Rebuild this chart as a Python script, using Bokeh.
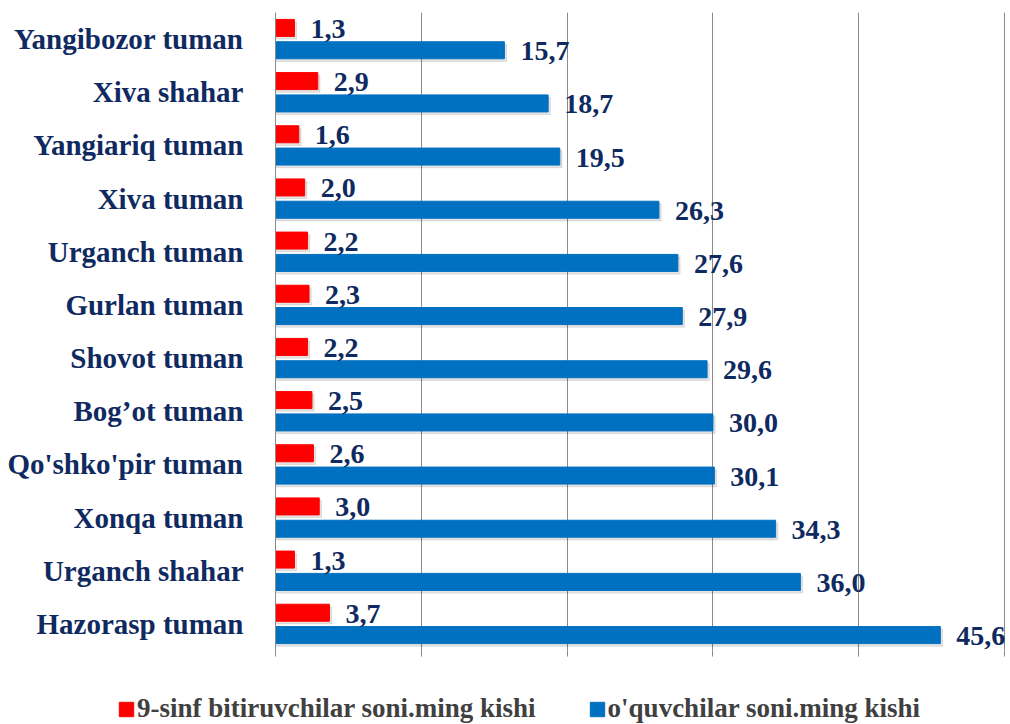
from bokeh.plotting import figure
from bokeh.models import ColumnDataSource, FactorRange, Range1d, Legend, LegendItem, FixedTicker
from bokeh.layouts import column
from bokeh.transform import dodge
from bokeh.core.properties import value
from bokeh.embed import file_html
from bokeh.resources import INLINE

categories = ["Yangibozor tuman", "Xiva shahar", "Yangiariq tuman", "Xiva tuman",
              "Urganch tuman", "Gurlan tuman", "Shovot tuman", "Bog\u2019ot tuman",
              "Qo'shko'pir tuman", "Xonqa tuman", "Urganch shahar", "Hazorasp tuman"]
graduates = [1.3, 2.9, 1.6, 2.0, 2.2, 2.3, 2.2, 2.5, 2.6, 3.0, 1.3, 3.7]
students = [15.7, 18.7, 19.5, 26.3, 27.6, 27.9, 29.6, 30.0, 30.1, 34.3, 36.0, 45.6]
series_names = ["9-sinf bitiruvchilar soni.ming kishi", "o'quvchilar soni.ming kishi"]
x_ticks = [0, 10, 20, 30, 40, 50]

RED = "#ff0000"
BLUE = "#0070c0"
NAVY = "#0f2a60"
GRID = "#8a8a8a"
FONT = value("Liberation Serif")

def fmt(v):
    return f"{v:.1f}".replace(".", ",")

cats_bt = categories[::-1]
src = ColumnDataSource(dict(
    cat=cats_bt,
    grad=graduates[::-1],
    stud=students[::-1],
    grad_lbl=[fmt(v) for v in graduates[::-1]],
    stud_lbl=[fmt(v) for v in students[::-1]],
    grad_sh=[v + 0.15 for v in graduates[::-1]],
    stud_sh=[v + 0.15 for v in students[::-1]],
))

p = figure(width=1010, height=690,
           y_range=FactorRange(*cats_bt, range_padding=0),
           x_range=Range1d(0, 50.41),
           output_backend="svg", toolbar_location=None,
           min_border_left=275, min_border_right=0,
           min_border_top=12, min_border_bottom=40)
p.frame_align = False
p.outline_line_color = None
p.background_fill_color = "white"

# axes
p.xaxis.ticker = FixedTicker(ticks=x_ticks)
p.xgrid.ticker = FixedTicker(ticks=x_ticks)
p.xgrid.grid_line_color = GRID
p.xgrid.grid_line_width = 1
p.ygrid.grid_line_color = None
p.xaxis.axis_line_color = None
p.xaxis.major_tick_line_color = GRID
p.xaxis.major_tick_out = 6
p.xaxis.major_tick_in = 0
p.xaxis.minor_tick_line_color = None
p.xaxis.major_label_text_font_size = "0px"
p.xaxis.major_label_text_color = None

p.yaxis.axis_line_color = GRID
p.yaxis.major_tick_line_color = None
p.yaxis.minor_tick_line_color = None
p.yaxis.major_label_standoff = 26
p.yaxis.major_label_text_font = "Liberation Serif"
p.yaxis.major_label_text_font_style = "bold"
p.yaxis.major_label_text_font_size = "29px"
p.yaxis.major_label_text_color = NAVY

OFF = 0.21
H = 0.32

# soft shadows
p.hbar(y=dodge('cat', OFF - 0.05, range=p.y_range), left=0, right='grad_sh', height=H,
       color="black", alpha=0.1, source=src)
p.hbar(y=dodge('cat', -OFF - 0.05, range=p.y_range), left=0, right='stud_sh', height=H,
       color="black", alpha=0.1, source=src)

p.hbar(y=dodge('cat', OFF, range=p.y_range), left=0, right='grad', height=H,
       color=RED, source=src)
p.hbar(y=dodge('cat', -OFF, range=p.y_range), left=0, right='stud', height=H,
       color=BLUE, source=src)

p.text(x='grad', y=dodge('cat', OFF, range=p.y_range), text='grad_lbl', source=src,
       x_offset=16, y_offset=1, text_align='left', text_baseline='middle',
       text_font=FONT, text_font_style="bold", text_font_size="28px", text_color=NAVY)
p.text(x='stud', y=dodge('cat', -OFF, range=p.y_range), text='stud_lbl', source=src,
       x_offset=16, y_offset=1, text_align='left', text_baseline='middle',
       text_font=FONT, text_font_style="bold", text_font_size="28px", text_color=NAVY)

# legend strip below the chart (its own frame, not aligned with the chart's)
lg = figure(width=1010, height=34, x_range=Range1d(0, 1), y_range=Range1d(0, 1),
            output_backend="svg", toolbar_location=None,
            min_border_left=0, min_border_right=0, min_border_top=0, min_border_bottom=0,
            x_axis_location=None, y_axis_location=None)
lg.frame_align = False
lg.outline_line_color = None
lg.grid.grid_line_color = None
# legend proxies: one off-canvas row each, never visible in the strip
proxy = ColumnDataSource(dict(y=[-5], r=[0]))
d_red = lg.hbar(y='y', right='r', left=0, height=0.1, color=RED, source=proxy)
d_blue = lg.hbar(y='y', right='r', left=0, height=0.1, color=BLUE, source=proxy)

legend = Legend(items=[LegendItem(label=series_names[0], renderers=[d_red]),
                       LegendItem(label=series_names[1], renderers=[d_blue])],
                orientation="horizontal", location=(117, 0),
                glyph_width=18, glyph_height=18, label_standoff=2, spacing=52,
                padding=0, margin=0, border_line_color=None, background_fill_alpha=0,
                label_text_font="Liberation Serif", label_text_font_style="bold",
                label_text_font_size="27px", label_text_color="#404040",
                label_height=20)
lg.add_layout(legend)

layout = column(p, lg, spacing=0)
open("out.html", "w").write(file_html(layout, INLINE))
